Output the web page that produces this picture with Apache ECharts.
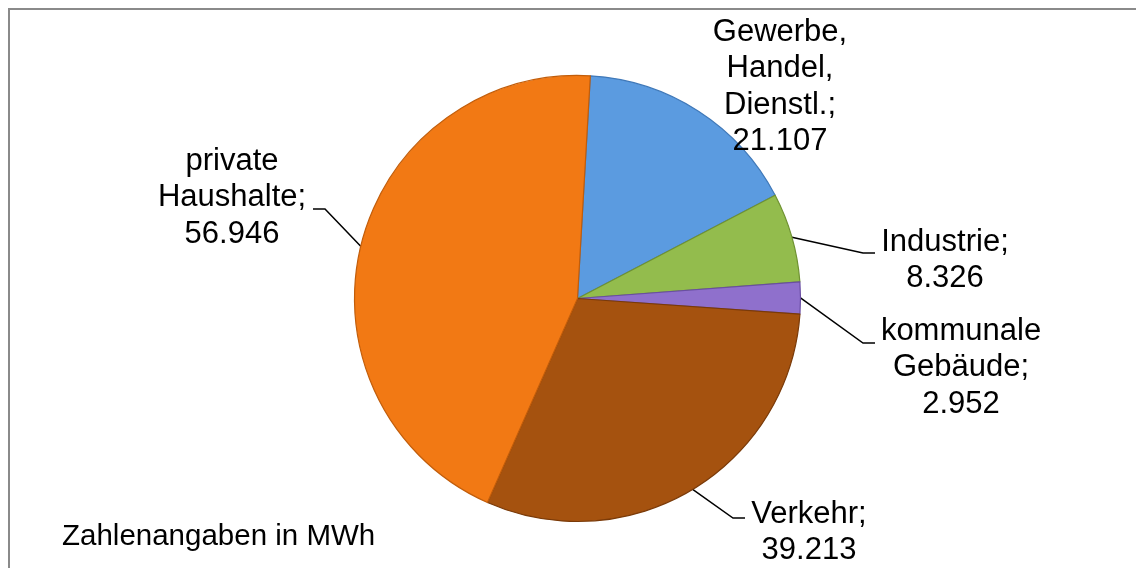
<!DOCTYPE html>
<html>
<head>
<meta charset="utf-8">
<script src="https://cdn.jsdelivr.net/npm/echarts@6/dist/echarts.min.js"></script>
<style>
  html, body { margin: 0; padding: 0; background: #fff; }
  #pieChart { width: 1136px; height: 568px; }
</style>
</head>
<body>
<div id="pieChart"></div>
<script>
  // Energieverbrauch nach Sektoren (MWh)
  var sectors = ['Gewerbe,\nHandel,\nDienstl.', 'Industrie', 'kommunale\nGebäude', 'Verkehr', 'private\nHaushalte']
  var values = [21107, 8326, 2952, 39213, 56946]
  var colors = ['#5b9be0', '#93bc4d', '#8f70cc', '#a5520f', '#f27914']
  var edgeColors = ['#3f78b8', '#6f9232', '#6a4ea3', '#7a3a08', '#c25d0a']
  var note = 'Zahlenangaben in MWh'

  // Lage der Beschriftungen: Mitte x, Oberkante y, Knick der Linie
  var labelSpots = [
    { x: 780, y: 14, line: null },
    { x: 945, y: 224, line: [[863, 253], [875, 253]] },
    { x: 961, y: 313, line: [[863, 343], [875, 343]] },
    { x: 809, y: 496, line: [[733, 518], [745, 518]] },
    { x: 232, y: 143, line: [[325, 209], [313, 209]] }
  ]

  var fontFam = '"Liberation Sans", Arial, Helvetica, sans-serif'

  var pieChart = echarts.init(document.getElementById('pieChart'))
  pieChart.setOption({
    animation: false,
    backgroundColor: '#fff',
    graphic: [
      {
        type: 'rect',
        shape: { x: 9, y: 9, width: 1200, height: 700 },
        style: { fill: 'none', stroke: '#8a8a8a', lineWidth: 2 },
        z: 0
      },
      {
        type: 'text',
        left: 62,
        top: 522,
        style: {
          text: note,
          font: '29.5px ' + fontFam,
          fill: '#000'
        }
      }
    ],
    series: [
      {
        type: 'pie',
        center: [577.5, 298.5],
        radius: 223,
        startAngle: 86.7,
        clockwise: true,
        avoidLabelOverlap: false,
        data: sectors.map(function (name, i) {
          return {
            name: name,
            value: values[i],
            itemStyle: {
              color: colors[i],
              borderColor: edgeColors[i],
              borderWidth: 1.2
            },
            labelLine: { show: labelSpots[i].line !== null }
          }
        }),
        label: {
          show: true,
          position: 'outside',
          color: '#000',
          fontFamily: fontFam,
          fontSize: 31,
          lineHeight: 36.5,
          align: 'center',
          formatter: function (p) {
            return p.name + ';\n' + p.value.toLocaleString('de-DE')
          }
        },
        labelLine: {
          show: true,
          lineStyle: { color: '#000', width: 1.5 }
        },
        labelLayout: function (params) {
          var spot = labelSpots[params.dataIndex]
          var out = { x: spot.x, y: spot.y, align: 'center', verticalAlign: 'top' }
          if (spot.line && params.labelLinePoints) {
            out.labelLinePoints = [params.labelLinePoints[0], spot.line[0], spot.line[1]]
          }
          return out
        },
        emphasis: { disabled: true }
      }
    ]
  })
</script>
</body>
</html>
